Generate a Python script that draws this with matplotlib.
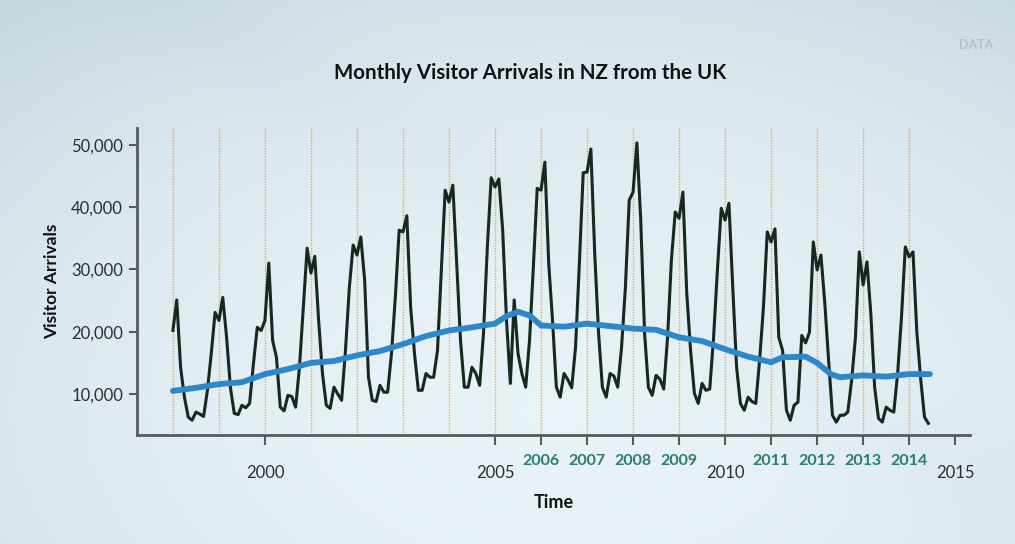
import matplotlib.pyplot as plt
import numpy as np

# Monthly visitor arrivals from the UK (thousands), Jan 1998 .. Jun 2014
start_year = 1998
arrivals = [
    20.2, 25.1, 14.3, 9.5, 6.3, 5.8, 7.1, 6.8, 6.4, 10.6, 16.5, 23.1,   # 1998
    21.8, 25.5, 19.1, 11.0, 6.9, 6.7, 8.2, 7.8, 8.5, 14.9, 20.7, 20.2,  # 1999
    21.8, 31.0, 18.6, 15.9, 7.9, 7.3, 9.8, 9.6, 7.9, 14.3, 23.9, 33.4,  # 2000
    29.4, 32.1, 21.8, 13.3, 8.2, 7.7, 11.1, 10.0, 9.0, 17.0, 27.0, 33.9,  # 2001
    32.3, 35.2, 28.3, 12.7, 9.0, 8.8, 11.4, 10.3, 10.3, 16.5, 25.5, 36.3,  # 2002
    36.0, 38.6, 23.9, 16.5, 10.6, 10.6, 13.3, 12.7, 12.7, 17.0, 29.9, 42.7,  # 2003
    40.8, 43.5, 31.0, 18.6, 11.1, 11.1, 14.3, 13.3, 11.4, 19.8, 33.6, 44.7,  # 2004
    43.2, 44.5, 36.3, 21.8, 11.7, 25.1, 16.5, 13.3, 11.1, 18.6, 30.4, 43.0,  # 2005
    42.7, 47.2, 31.0, 21.8, 11.1, 9.5, 13.3, 12.3, 11.0, 17.5, 31.0, 45.5,  # 2006
    45.6, 49.3, 32.6, 19.8, 11.1, 9.5, 13.3, 12.9, 11.1, 17.5, 27.1, 41.1,  # 2007
    42.4, 50.3, 37.9, 19.8, 11.1, 9.8, 13.0, 12.4, 10.8, 19.1, 31.5, 39.2,  # 2008
    38.2, 42.4, 26.2, 17.0, 10.1, 8.5, 11.7, 10.6, 10.8, 19.1, 29.9, 39.8,  # 2009
    37.9, 40.6, 27.1, 14.3, 8.5, 7.4, 9.5, 8.8, 8.5, 15.4, 23.9, 36.0,  # 2010
    34.4, 36.5, 19.1, 17.0, 7.4, 5.8, 8.2, 8.7, 19.4, 18.2, 19.9, 34.4,  # 2011
    29.9, 32.3, 24.6, 15.4, 6.6, 5.5, 6.6, 6.6, 7.1, 12.2, 19.1, 32.8,  # 2012
    27.5, 31.2, 23.0, 11.1, 6.1, 5.5, 7.9, 7.4, 7.1, 13.3, 22.3, 33.6,  # 2013
    32.0, 32.8, 20.0, 12.5, 6.3, 5.3,                                   # 2014
]

# Smoothed trend (decimal year, thousands)
trend_time = [1998.0, 1998.5, 1999.0, 1999.5, 2000.0, 2000.5, 2001.0, 2001.5,
              2002.0, 2002.5, 2003.0, 2003.5, 2004.0, 2004.5, 2005.0, 2005.25,
              2005.5, 2005.75, 2006.0, 2006.5, 2007.0, 2007.5, 2008.0, 2008.5,
              2009.0, 2009.5, 2010.0, 2010.5, 2011.0, 2011.25, 2011.75, 2012.0,
              2012.3, 2012.5, 2013.0, 2013.5, 2014.0, 2014.45]
trend_value = [10.5, 11.0, 11.6, 11.9, 13.2, 14.0, 15.0, 15.3,
               16.2, 16.9, 18.0, 19.3, 20.2, 20.7, 21.3, 22.5,
               23.2, 22.6, 21.0, 20.8, 21.3, 20.9, 20.5, 20.3,
               19.1, 18.5, 17.2, 16.0, 15.1, 15.9, 16.0, 15.0,
               13.2, 12.7, 13.0, 12.8, 13.2, 13.2]

major_years = [2000, 2005, 2010, 2015]
minor_years = [2006, 2007, 2008, 2009, 2011, 2012, 2013, 2014]
guide_years = list(range(1998, 2015))
y_ticks = [10000, 20000, 30000, 40000, 50000]

plt.rcParams["font.family"] = ["Lato", "DejaVu Sans"]

fig = plt.figure(figsize=(10.15, 5.44), dpi=100)

# soft blue-grey backdrop
bg = fig.add_axes([0, 0, 1, 1], zorder=-5)
h, w = 272, 508
yy, xx = np.mgrid[0:h, 0:w]
u, v = xx / w, yy / h
light = 1 - 0.55 * ((u - 0.55) ** 2 * 1.6 + (v - 0.75) ** 2 * 1.2)
streak = 0.05 * np.exp(-((u - 0.25) - (v - 0.1) * 0.9) ** 2 / 0.01)
light = np.clip(light - streak, 0, 1)
dark = np.array([0.70, 0.78, 0.82])
bright = np.array([0.91, 0.95, 0.97])
img = dark + (bright - dark) * light[..., None]
bg.imshow(np.clip(img, 0, 1), aspect="auto", extent=[0, 1, 0, 1])
bg.set_axis_off()

ax = fig.add_axes([0.135, 0.200, 0.821, 0.565])
ax.patch.set_alpha(0)

t = start_year + np.arange(len(arrivals)) / 12
ax.plot(t, np.array(arrivals) * 1000, color="#17291f", lw=2.2, zorder=3)
ax.plot(trend_time, np.array(trend_value) * 1000, color="#2c88c8", lw=4.2,
        solid_capstyle="round", zorder=4)

for yr in guide_years:
    ax.axvline(yr, color="#e89a3c", lw=1.0, ls=(0, (1, 1)), alpha=0.85, zorder=1)

ax.set_xlim(1997.22, 2015.33)
ax.set_ylim(3400, 52700)

for side in ["top", "right"]:
    ax.spines[side].set_visible(False)
for side in ["left", "bottom"]:
    ax.spines[side].set_color("#555a5c")
    ax.spines[side].set_linewidth(2)

ax.set_yticks(y_ticks)
ax.set_yticklabels([f"{v:,}" for v in y_ticks])
ax.tick_params(axis="y", length=6, width=1.5, color="#555a5c", labelsize=12,
               labelcolor="#2a2e30", pad=4)

ax.set_xticks(major_years)
ax.set_xticklabels([str(y) for y in major_years])
ax.set_xticks(minor_years, minor=True)
ax.set_xticklabels([str(y) for y in minor_years], minor=True)
ax.tick_params(axis="x", which="major", length=7, width=1.5, color="#555a5c",
               labelsize=12, labelcolor="#2a2e30", pad=14.5)
ax.tick_params(axis="x", which="minor", length=7, width=1.5, color="#555a5c",
               labelsize=11.5, labelcolor="#2b7d6c", pad=6.5)
for lbl in ax.get_xticklabels(minor=True):
    lbl.set_fontweight("bold")

ax.set_xlabel("Time", fontsize=13, fontweight="bold", labelpad=9, color="#111111")
ax.set_ylabel("Visitor Arrivals", fontsize=12.5, fontweight="bold", labelpad=8,
              color="#111111")

fig.text(0.522, 0.866, "Monthly Visitor Arrivals in NZ from the UK",
         ha="center", va="center", fontsize=14.8, fontweight="bold", color="#111111")
fig.text(0.978, 0.918, "DATA", ha="right", va="center", fontsize=9,
         fontweight="bold", color="#b4c4cc")

fig.savefig("out.png", dpi=100)
